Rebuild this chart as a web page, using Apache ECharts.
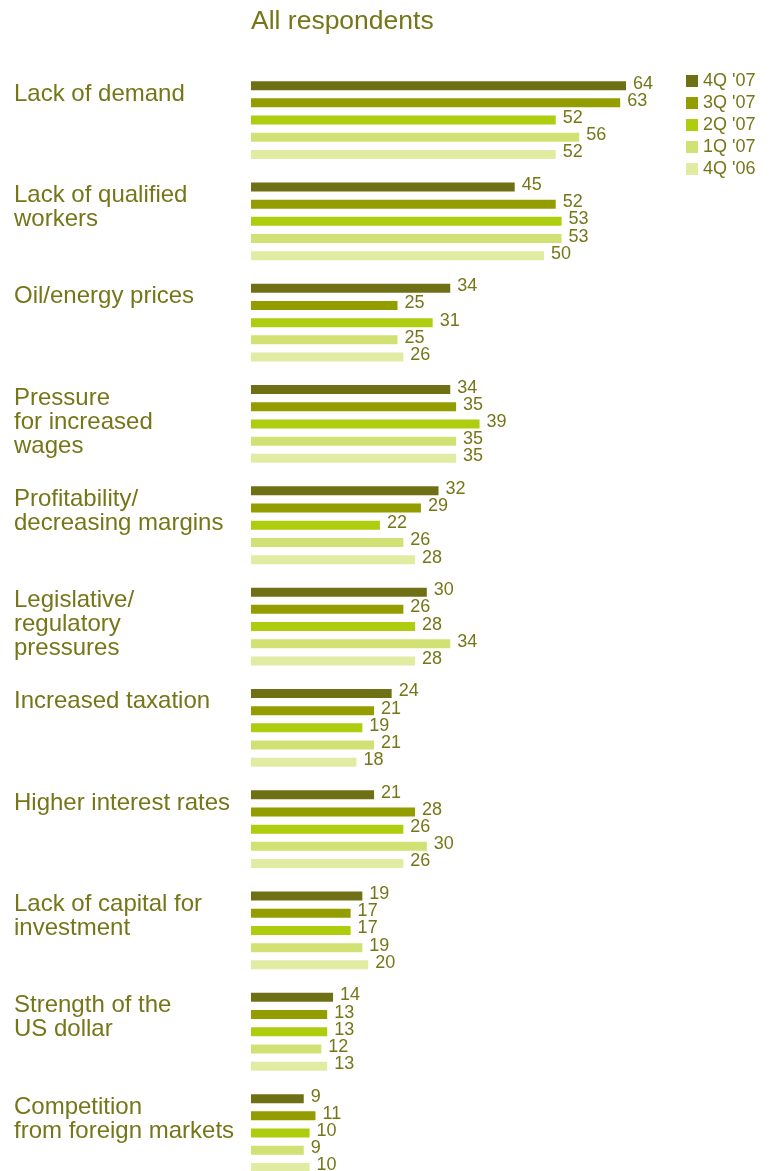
<!DOCTYPE html>
<html>
<head>
<meta charset="utf-8">
<script src="https://cdn.jsdelivr.net/npm/echarts@6/dist/echarts.min.js"></script>
<style>
  html, body { margin: 0; padding: 0; background: #fff; overflow: hidden; }
  #chart { width: 773px; height: 1200px; }
</style>
</head>
<body>
<div id="chart"></div>
<script>
// Obstacles to growth, share of respondents (%), by survey quarter
const categories = [
  'Lack of demand',
  'Lack of qualified\nworkers',
  'Oil/energy prices',
  'Pressure\nfor increased\nwages',
  'Profitability/\ndecreasing margins',
  'Legislative/\nregulatory\npressures',
  'Increased taxation',
  'Higher interest rates',
  'Lack of capital for\ninvestment',
  'Strength of the\nUS dollar',
  'Competition\nfrom foreign markets'
];
const seriesNames = ["4Q '07", "3Q '07", "2Q '07", "1Q '07", "4Q '06"];
const q4_07 = [64, 45, 34, 34, 32, 30, 24, 21, 19, 14, 9];
const q3_07 = [63, 52, 25, 35, 29, 26, 21, 28, 17, 13, 11];
const q2_07 = [52, 53, 31, 39, 22, 28, 19, 26, 17, 13, 10];
const q1_07 = [56, 53, 25, 35, 26, 34, 21, 30, 19, 12, 9];
const q4_06 = [52, 50, 26, 35, 28, 28, 18, 26, 20, 13, 10];

const colors = ['#6f7015', '#949d00', '#aecd0f', '#d1e173', '#e1eca2'];
const textColor = '#767619';
const font = 'Liberation Sans, Arial, sans-serif';

// The chart area runs a little past the visible page, so the last group is cut at the bottom edge
const chart = echarts.init(document.getElementById('chart'), null, { renderer: 'canvas' });

const values = [q4_07, q3_07, q2_07, q1_07, q4_06];
const series = values.map((data, i) => ({
  name: seriesNames[i],
  type: 'bar',
  data: data,
  barWidth: 9,
  barGap: '91%',
  itemStyle: { color: colors[i] },
  label: {
    show: true,
    position: 'right',
    distance: 7,
    offset: [0, -2],
    color: textColor,
    fontFamily: font,
    fontSize: 18
  },
  animation: false
}));

chart.setOption({
  animation: false,
  title: {
    text: 'All respondents',
    left: 246,
    top: 3,
    textStyle: { color: textColor, fontFamily: font, fontSize: 26.5, fontWeight: 'normal' }
  },
  legend: {
    data: seriesNames,
    orient: 'vertical',
    left: 681,
    top: 67,
    icon: 'rect',
    itemWidth: 12,
    itemHeight: 12,
    itemGap: 4,
    textStyle: { color: textColor, fontFamily: font, fontSize: 18, lineHeight: 18 }
  },
  grid: { left: 251, top: 69.4, width: 410.2, height: 1114.3, containLabel: false },
  xAxis: {
    type: 'value',
    min: 0,
    max: 70,
    show: false
  },
  yAxis: {
    type: 'category',
    data: categories,
    inverse: true,
    axisLine: { show: false },
    axisTick: { show: false },
    axisLabel: { show: false },
    splitLine: { show: false }
  },
  series: series
});

// Category names sit at the top-left of each group, left-aligned
const labelGraphics = categories.map((name) => {
  const y = chart.convertToPixel({ yAxisIndex: 0 }, name);
  return {
    type: 'text',
    left: 14,
    top: y - 38,
    style: {
      text: name,
      fill: textColor,
      font: '24px ' + font,
      lineHeight: 24
    }
  };
});
chart.setOption({ graphic: labelGraphics });
</script>
</body>
</html>
